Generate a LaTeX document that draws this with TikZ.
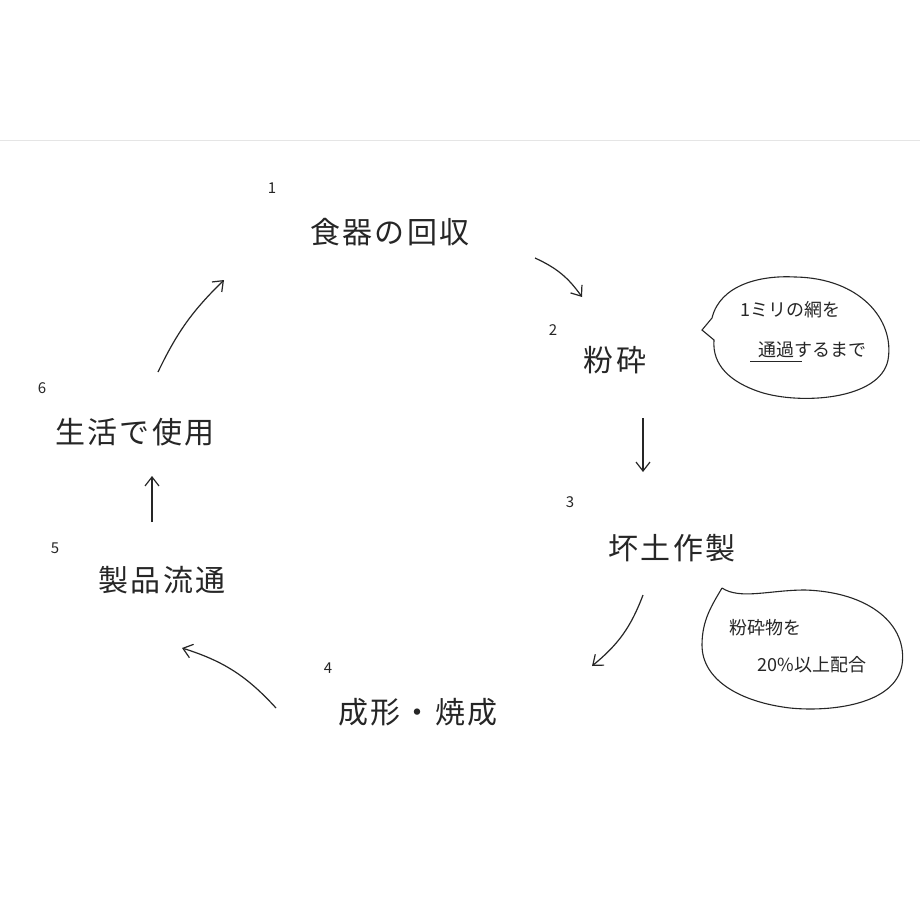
\documentclass[tikz,border=0pt]{standalone}
\usepackage{fontspec}
\newfontfamily\jp{Noto Sans CJK JP}[Scale=1]
\usetikzlibrary{arrows.meta,shapes.callouts}
\begin{document}
\begin{tikzpicture}[x=1pt,y=-1pt,
  lbl/.style={font=\jp\fontsize{30}{34}\selectfont\addfontfeature{LetterSpace=8},text=black!85},
  num/.style={font=\jp\fontsize{15}{18}\selectfont,text=black!85},
  sm/.style={font=\jp\fontsize{18}{22}\selectfont,text=black!85,align=left},
  arr/.style={draw=black!85,line width=1.2pt,-{Straight Barb[length=9pt,width=14pt]}},
  bub/.style={draw=black!85,line width=1.1pt}]
\useasboundingbox (0,0) rectangle (920,920);
\fill[white] (0,0) rectangle (920,920);
\draw[black!10] (0,140) -- (920,140);
\node[num] (n1) at (272,188) {1};
\node[lbl] (s1) at (390,232) {食器の回収};
\node[num] (n2) at (553,330) {2};
\node[lbl] (s2) at (615,360) {粉砕};
\node[num] (n3) at (570,502) {3};
\node[lbl] (s3) at (672,548) {坏土作製};
\node[num] (n4) at (328,668) {4};
\node[lbl] (s4) at (418,712) {成形・焼成};
\node[num] (n5) at (55,548) {5};
\node[lbl] (s5) at (162,580) {製品流通};
\node[num] (n6) at (42,388) {6};
\node[lbl] (s6) at (135,432) {生活で使用};
\coordinate (a1) at (535,258); \coordinate (b1) at (582,297);
\draw[arr] (a1) to[bend left=15] (b1);
\coordinate (a2) at (643,418); \coordinate (b2) at (643,472);
\draw[arr] (a2) -- (b2);
\coordinate (a3) at (643,595); \coordinate (b3) at (592,666);
\draw[arr] (a3) to[bend left=15] (b3);
\coordinate (a4) at (276,708); \coordinate (b4) at (182,648);
\draw[arr] (a4) to[bend right=15] (b4);
\coordinate (a5) at (152,522); \coordinate (b5) at (152,476);
\draw[arr] (a5) -- (b5);
\coordinate (a6) at (158,372); \coordinate (b6) at (224,280);
\draw[arr] (a6) to[bend left=10] (b6);
% bubble 1
\draw[bub] (712,318) .. controls (720,285) and (760,275) .. (795,277)
  .. controls (860,278) and (895,320) .. (888,360)
  .. controls (880,400) and (800,405) .. (760,392)
  .. controls (730,382) and (712,365) .. (714,340)
  -- (702,330) -- (712,318);
\node[sm] (t1) at (790,310) {1ミリの網を};
\node[sm] (t2) at (812,350) {通過するまで};
\draw[black!85,line width=1pt] ([xshift=-4pt]t2.south west) -- ++(52,0);
% bubble 2
\draw[bub] (722,588) .. controls (740,600) and (770,590) .. (805,590)
  .. controls (870,592) and (908,625) .. (902,665)
  .. controls (895,705) and (830,712) .. (790,708)
  .. controls (740,702) and (702,680) .. (702,645)
  .. controls (702,620) and (712,605) .. (722,588);
\node[sm] (t3) at (765,628) {粉砕物を};
\node[sm] (t4) at (812,665) {20\%以上配合};
\end{tikzpicture}
\end{document}
